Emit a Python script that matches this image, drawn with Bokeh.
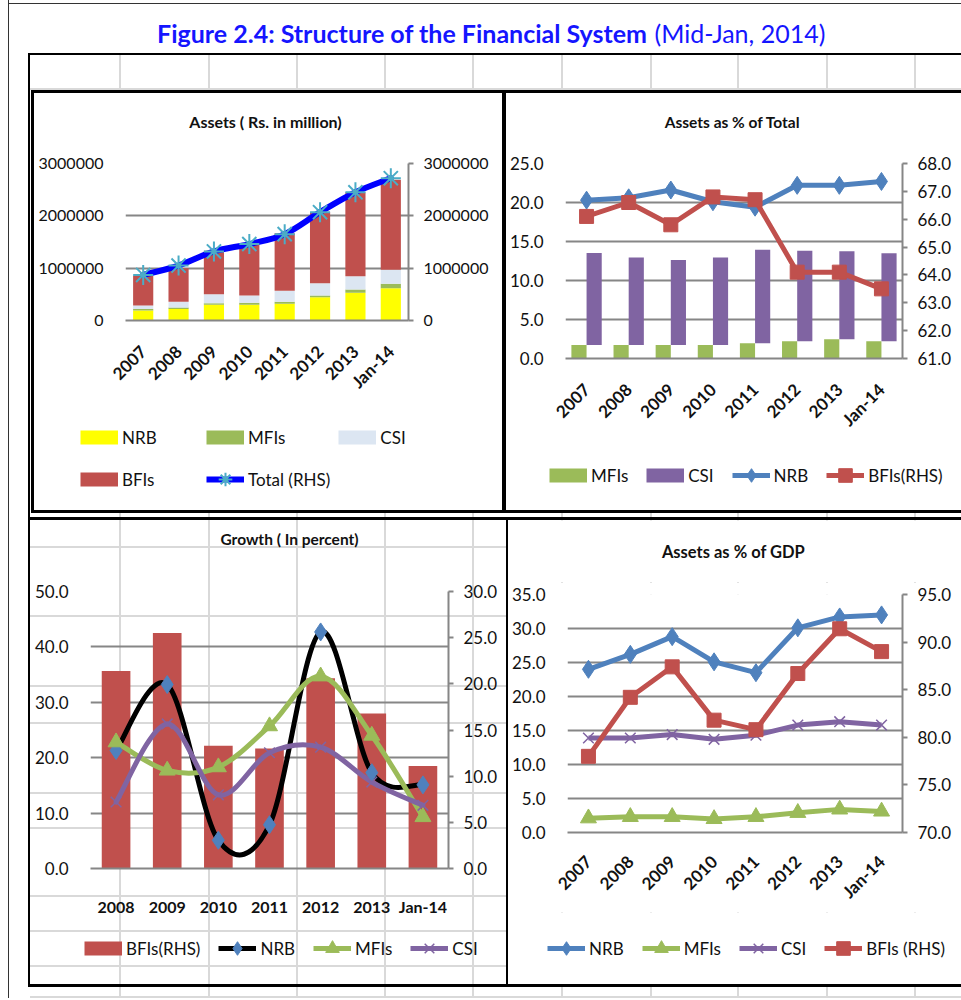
import numpy as np
from math import pi
from bokeh.plotting import figure
from bokeh.models import (Range1d, FactorRange, LinearAxis, FixedTicker, NumeralTickFormatter,
                          Legend, LegendItem, Label, ColumnDataSource, Spacer)
from bokeh.layouts import column, row
from bokeh.transform import dodge
from bokeh.embed import file_html
from bokeh.resources import INLINE

FONT = "Lato"
GRID = "#868686"
TXT = "#111111"

# ---------------- data ----------------
years = ["2007", "2008", "2009", "2010", "2011", "2012", "2013", "Jan-14"]

# Assets (Rs. in million)
assets_nrb = [190000, 220000, 300000, 300000, 320000, 445000, 530000, 617000]
assets_mfi = [30000, 30000, 30000, 40000, 36000, 35000, 60000, 83000]
assets_csi = [65000, 110000, 170000, 140000, 214000, 230000, 255000, 270000]
assets_bfi = [575000, 640000, 835000, 980000, 1095000, 1360000, 1605000, 1720000]
assets_total = [870000, 1050000, 1320000, 1460000, 1650000, 2070000, 2450000, 2720000]
assets_ticks = [0, 1000000, 2000000, 3000000]

# Assets as % of Total
share_mfi = [1.74, 1.74, 1.74, 1.74, 1.95, 2.2, 2.46, 2.2]
share_csi = [11.8, 11.2, 10.9, 11.2, 12.0, 11.6, 11.3, 11.3]
share_nrb = [20.3, 20.6, 21.6, 20.1, 19.4, 22.2, 22.2, 22.7]
share_bfi = [66.1, 66.6, 65.8, 66.8, 66.7, 64.1, 64.1, 63.5]
share_ticks_l = [0, 5, 10, 15, 20, 25]
share_ticks_r = [61, 62, 63, 64, 65, 66, 67, 68]

# Growth (In percent)
growth_years = ["2008", "2009", "2010", "2011", "2012", "2013", "Jan-14"]
growth_bfi = [21.4, 25.5, 13.3, 13.0, 20.6, 16.8, 11.1]
growth_nrb = [21.3, 33.2, 5.1, 7.9, 42.7, 17.3, 15.1]
growth_mfi = [22.8, 17.7, 18.3, 25.7, 34.7, 24.0, 9.3]
growth_csi = [12.0, 26.1, 13.3, 20.9, 21.9, 15.6, 11.4]
growth_ticks_l = [0, 10, 20, 30, 40, 50]
growth_ticks_r = [0, 5, 10, 15, 20, 25, 30]

# Assets as % of GDP
gdp_nrb = [24.0, 26.2, 28.8, 25.1, 23.5, 30.1, 31.7, 32.0]
gdp_mfi = [2.1, 2.3, 2.3, 2.0, 2.3, 2.9, 3.4, 3.1]
gdp_csi = [13.9, 13.9, 14.4, 13.7, 14.3, 15.8, 16.3, 15.8]
gdp_bfi = [78.0, 84.2, 87.4, 81.8, 80.8, 86.7, 91.4, 89.0]
gdp_ticks_l = [0, 5, 10, 15, 20, 25, 30, 35]
gdp_ticks_r = [70, 75, 80, 85, 90, 95]


# ---------------- helpers ----------------
def smooth(ys):
    """Bezier control points (Excel-like smoothing) for a series on a categorical axis."""
    n = len(ys)
    xs = np.arange(n) + 0.5
    ys = np.asarray(ys, float)
    c = lambda i: min(max(i, 0), n - 1)
    d = {k: [] for k in ["x0", "y0", "x1", "y1", "cx0", "cy0", "cx1", "cy1"]}
    for i in range(n - 1):
        a, b, e, f = c(i - 1), i, i + 1, c(i + 2)
        d["x0"].append(xs[b]); d["y0"].append(ys[b])
        d["x1"].append(xs[e]); d["y1"].append(ys[e])
        d["cx0"].append(xs[b] + (xs[e] - xs[a]) / 6); d["cy0"].append(ys[b] + (ys[e] - ys[a]) / 6)
        d["cx1"].append(xs[e] - (xs[f] - xs[b]) / 6); d["cy1"].append(ys[e] - (ys[f] - ys[b]) / 6)
    return ColumnDataSource(d)


def blank(w, h, fill):
    p = figure(width=w, height=h, x_range=Range1d(0, w), y_range=Range1d(h, 0),
               output_backend="svg", toolbar_location=None, x_axis_type=None,
               y_axis_type=None, min_border=0)
    p.frame_align = False
    p.grid.grid_line_color = None
    p.outline_line_color = None
    p.border_fill_color = fill
    p.background_fill_color = fill
    return p


def title_fig(w, h, text, x, y, size, fill):
    p = blank(w, h, fill)
    p.add_layout(Label(x=x, y=y, text=text, text_font=FONT, text_font_size=size,
                       text_font_style="bold", text_align="center", text_baseline="middle",
                       text_color=TXT))
    return p


NAN = np.array([np.nan])


def legend_fig(w, h, entries, loc, fill, ncols=None, label_width=20, spacing=18):
    """Legend panel: each entry's swatch uses a renderer holding no visible point."""
    p = blank(w, h, fill)
    items = []
    for label, parts in entries:
        rs = []
        for kind, kw in parts:
            if kind == "line":
                rs.append(p.line(x=NAN, y=NAN, **kw))
            else:
                rs.append(p.scatter(x=NAN, y=NAN, **kw))
        items.append(LegendItem(label=label, renderers=rs))
    kw = dict(items=items, location=loc, orientation="horizontal", glyph_width=38,
              glyph_height=34, label_standoff=4, spacing=spacing, padding=0, margin=0,
              border_line_color=None, background_fill_alpha=0, label_text_font=FONT,
              label_text_font_size="17px", label_text_color=TXT, label_width=label_width,
              label_height=20)
    if ncols:
        kw["ncols"] = ncols
    p.add_layout(Legend(**kw))
    return p


def chart(w, h, left, fw, fh, bottom, cats, ylo, yhi, fill):
    top = h - fh - bottom
    p = figure(width=w, height=h, x_range=FactorRange(*cats, range_padding=0),
               y_range=Range1d(ylo, yhi), output_backend="svg", toolbar_location=None,
               min_border_left=left, min_border_top=top,
               min_border_right=w - left - fw, min_border_bottom=bottom)
    p.frame_align = False
    p.outline_line_color = None
    p.border_fill_color = fill
    p.background_fill_color = fill
    p.xgrid.grid_line_color = None
    p.ygrid.grid_line_color = GRID
    p.ygrid.grid_line_width = 2
    return p


def style_axis(ax, size="17px", bold=False, line=False, standoff=16):
    ax.major_label_text_font = FONT
    ax.major_label_text_font_size = size
    ax.major_label_text_color = TXT
    ax.major_label_text_font_style = "bold" if bold else "normal"
    ax.major_label_standoff = standoff
    ax.minor_tick_line_color = None
    if line:
        ax.axis_line_color = GRID
        ax.axis_line_width = 2
        ax.major_tick_line_color = GRID
        ax.major_tick_line_width = 2
        ax.major_tick_in = 0
        ax.major_tick_out = 5
    else:
        ax.axis_line_color = None
        ax.major_tick_line_color = None


def setup_axes(p, lticks, rticks, rname, ylo, yhi, fmt, rot=True, xstand=22, ysize="17px"):
    p.extra_y_ranges[rname] = Range1d(ylo, yhi)
    yl = p.yaxis[0]
    yl.ticker = FixedTicker(ticks=lticks)
    yl.formatter = NumeralTickFormatter(format=fmt)
    style_axis(yl, size=ysize)
    yr = LinearAxis(y_range_name=rname, ticker=FixedTicker(ticks=rticks),
                    formatter=NumeralTickFormatter(format=fmt))
    style_axis(yr, size=ysize, line=True, standoff=10)
    p.add_layout(yr, "right")
    xa = p.xaxis[0]
    style_axis(xa, size="17px" if rot else "16px", bold=True, standoff=xstand)
    xa.axis_line_color = GRID
    xa.axis_line_width = 2
    if rot:
        xa.major_label_orientation = pi / 4
    return p


def sw(color):   # legend swatch for a bar series
    return [("line", dict(line_color=color, line_width=14))]


def lm(color, marker, size=13, x=False):   # legend swatch for a line+marker series
    mk = dict(marker=marker, size=size, line_color=color)
    if x:
        mk["line_width"] = 1.5
    else:
        mk["fill_color"] = color
    return [("line", dict(line_color=color, line_width=5)), ("scatter", mk)]


# ---------------- top-left: Assets ----------------
WHITE = "white"
tl = chart(468, 254, 91, 283, 157, 85, years, 0, 3000000, WHITE)
setup_axes(tl, assets_ticks, assets_ticks, "right", 0, 3000000, "0", ysize="16px")
src_tl = ColumnDataSource(dict(year=years, NRB=assets_nrb, MFIs=assets_mfi,
                               CSI=assets_csi, BFIs=assets_bfi, total=assets_total))
tl.vbar_stack(["NRB", "MFIs", "CSI", "BFIs"], x="year", width=0.57,
              fill_color=["#ffff00", "#9bbb59", "#dce6f2", "#c0504d"],
              line_color=None, source=src_tl)
tl.bezier(x0="x0", y0="y0", x1="x1", y1="y1", cx0="cx0", cy0="cy0", cx1="cx1", cy1="cy1",
          source=smooth(assets_total), line_color="#0000ff", line_width=6, line_cap="round",
          y_range_name="right")
tl.scatter(x="year", y="total", source=src_tl, marker="asterisk", size=20,
           line_color="#4bacc6", line_width=2, y_range_name="right")
tl_title = title_fig(468, 58, "Assets ( Rs. in million)", 231, 28, "16px", WHITE)
tl_leg = legend_fig(468, 105, [
    ("NRB", sw("#ffff00")), ("MFIs", sw("#9bbb59")), ("CSI", sw("#dce6f2")),
    ("BFIs", sw("#c0504d")),
    ("Total (RHS)", [("line", dict(line_color="#0000ff", line_width=6)),
                     ("scatter", dict(marker="asterisk", size=16, line_color="#4bacc6",
                                      line_width=2))]),
], (46, 14), WHITE, ncols=3, label_width=76, spacing=8)

# ---------------- top-right: Assets as % of Total ----------------
tr = chart(455, 289, 59, 337, 196, 81, years, 0, 25, WHITE)
setup_axes(tr, share_ticks_l, share_ticks_r, "right", 61, 68, "0.0")
src_tr = ColumnDataSource(dict(year=years, mfi=share_mfi, csi=share_csi, nrb=share_nrb,
                               bfi=share_bfi,
                               csi_top=[m + c for m, c in zip(share_mfi, share_csi)]))
tr.vbar(x=dodge("year", -0.18, range=tr.x_range), top="mfi", width=0.36,
        fill_color="#9bbb59", line_color=None, source=src_tr)
tr.vbar(x=dodge("year", 0.18, range=tr.x_range), bottom="mfi", top="csi_top",
        width=0.36, fill_color="#8064a2", line_color=None, source=src_tr)
tr.line(x="year", y="nrb", source=src_tr, line_color="#4f81bd", line_width=5)
tr.scatter(x="year", y="nrb", source=src_tr, marker="diamond", size=18,
           fill_color="#4f81bd", line_color="#4f81bd")
tr.line(x="year", y="bfi", source=src_tr, line_color="#c0504d", line_width=5,
        y_range_name="right")
tr.scatter(x="year", y="bfi", source=src_tr, marker="square", size=14,
           fill_color="#c0504d", line_color="#c0504d", y_range_name="right")
tr_title = title_fig(455, 58, "Assets as % of Total", 226, 28, "15.5px", WHITE)
tr_leg = legend_fig(455, 70, [
    ("MFIs", sw("#9bbb59")), ("CSI", sw("#8064a2")),
    ("NRB", lm("#4f81bd", "diamond", 16)), ("BFIs(RHS)", lm("#c0504d", "square", 13)),
], (43, 18), WHITE)

# ---------------- bottom-left: Growth ----------------
bl = chart(476, 339, 60, 358, 277, 50, growth_years, 0, 50, None)
setup_axes(bl, growth_ticks_l, growth_ticks_r, "right", 0, 30, "0.0", rot=False, xstand=22)
src_bl = ColumnDataSource(dict(year=growth_years, bfi=growth_bfi, nrb=growth_nrb,
                               mfi=growth_mfi, csi=growth_csi))
bl.vbar(x="year", top="bfi", width=0.56, fill_color="#c0504d", line_color=None,
        source=src_bl, y_range_name="right")
for ys, col in [(growth_nrb, "#000000"), (growth_mfi, "#9bbb59"), (growth_csi, "#8064a2")]:
    bl.bezier(x0="x0", y0="y0", x1="x1", y1="y1", cx0="cx0", cy0="cy0", cx1="cx1",
              cy1="cy1", source=smooth(ys), line_color=col, line_width=5, line_cap="round")
bl.scatter(x="year", y="nrb", source=src_bl, marker="diamond", size=18,
           fill_color="#4f81bd", line_color="#4f81bd")
bl.scatter(x="year", y="mfi", source=src_bl, marker="triangle", size=16,
           fill_color="#9bbb59", line_color="#9bbb59")
bl.scatter(x="year", y="csi", source=src_bl, marker="x", size=15,
           line_color="#8064a2", line_width=1.5)
bl_title = title_fig(476, 59, "Growth ( In percent)", 259, 18, "15.5px", None)
bl_leg = legend_fig(476, 66, [
    ("BFIs(RHS)", sw("#c0504d")),
    ("NRB", [("line", dict(line_color="#000000", line_width=5)),
             ("scatter", dict(marker="diamond", size=16, fill_color="#4f81bd",
                              line_color="#4f81bd"))]),
    ("MFIs", lm("#9bbb59", "triangle", 14)),
    ("CSI", lm("#8064a2", "x", 13, x=True)),
], (54, 19), None)

# ---------------- bottom-right: Assets as % of GDP ----------------
br = chart(453, 330, 58, 336, 238, 80, years, 0, 35, WHITE)
setup_axes(br, gdp_ticks_l, gdp_ticks_r, "right", 70, 95, "0.0", xstand=20)
src_br = ColumnDataSource(dict(year=years, nrb=gdp_nrb, mfi=gdp_mfi, csi=gdp_csi, bfi=gdp_bfi))
for key, color, marker, size, rng in [
        ("nrb", "#4f81bd", "diamond", 18, "default"),
        ("mfi", "#9bbb59", "triangle", 16, "default"),
        ("csi", "#8064a2", "x", 15, "default"),
        ("bfi", "#c0504d", "square", 14, "right")]:
    br.line(x="year", y=key, source=src_br, line_color=color, line_width=5, y_range_name=rng)
    if marker == "x":
        br.scatter(x="year", y=key, source=src_br, marker=marker, size=size,
                   line_color=color, line_width=1.5, y_range_name=rng)
    else:
        br.scatter(x="year", y=key, source=src_br, marker=marker, size=size,
                   fill_color=color, line_color=color, y_range_name=rng)
br_title = title_fig(453, 62, "Assets as % of GDP", 225, 31, "16.5px", WHITE)
br_leg = legend_fig(453, 72, [
    ("NRB", lm("#4f81bd", "diamond", 16)), ("MFIs", lm("#9bbb59", "triangle", 14)),
    ("CSI", lm("#8064a2", "x", 13, x=True)), ("BFIs (RHS)", lm("#c0504d", "square", 13)),
], (39, 19), WHITE)

# ---------------- header with figure title ----------------
hd = blank(961, 90, None)
hd.add_layout(Label(x=647, y=32, text="Figure 2.4: Structure of the Financial System",
                    text_font=FONT, text_font_size="25px", text_font_style="bold",
                    text_color="#1515ff", text_align="right", text_baseline="middle"))
hd.add_layout(Label(x=654, y=32, text="(Mid-Jan, 2014)", text_font=FONT,
                    text_font_size="25px", text_color="#1515ff", text_align="left",
                    text_baseline="middle"))

# ---------------- sheet background (frames & cell lines) ----------------
def lyr(x, y, w, h, color):
    return f"linear-gradient({color},{color}) {x}px {y}px / {w}px {h}px no-repeat"

layers = [
    lyr(8, 3, 953, 1, "#333"), lyr(8, 0, 1, 1000, "#333"),
    lyr(28, 53, 933, 2, "#000"), lyr(28, 53, 2, 934, "#000"),
    # top row panel frames
    lyr(31, 90, 3, 423, "#000"), lyr(31, 90, 930, 3, "#000"),
    lyr(31, 510, 930, 3, "#000"), lyr(502, 90, 4, 423, "#000"),
    # bottom row panel frames
    lyr(28, 517, 933, 3, "#000"), lyr(506, 517, 2, 470, "#000"),
    lyr(28, 984, 933, 3, "#000"),
]
for gx in [119, 208, 296, 384, 472, 561, 650, 737, 826, 914]:
    layers.append(lyr(gx, 55, 2, 35, "#d9d9d9"))
    layers.append(lyr(gx, 513, 2, 487, "#d9d9d9"))
layers.append(lyr(30, 88, 931, 2, "#d9d9d9"))
layers.append(lyr(30, 996, 931, 2, "#d9d9d9"))
for gy in [546, 615, 685, 722, 792, 827, 895, 930, 965]:
    layers.append(lyr(30, gy, 476, 2, "#d9d9d9"))

p_tl = column(tl_title, tl, tl_leg, margin=(3, 2, 3, 34))
p_tr = column(tr_title, tr, tr_leg, margin=(3, 0, 3, 2))
p_bl = column(bl_title, bl, bl_leg, margin=(7, 2, 0, 30))
p_br = column(br_title, br, br_leg, margin=(7, 0, 0, 0))

root = column(hd, row(p_tl, p_tr), row(p_bl, p_br), Spacer(width=961, height=14),
              styles={"background": ", ".join(layers) + ", #ffffff"})

open("out.html", "w").write(file_html(root, INLINE))
